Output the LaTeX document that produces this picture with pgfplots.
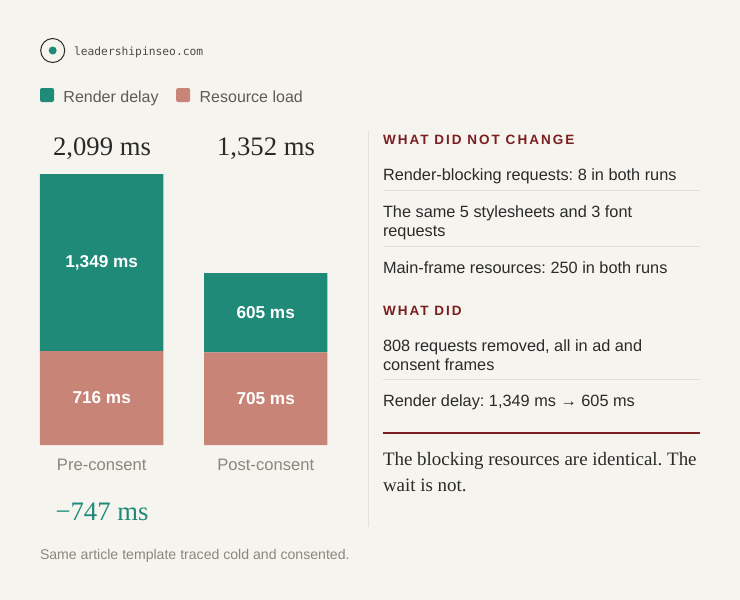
\documentclass[border=0pt]{standalone}
\usepackage{pgfplots}
\pgfplotsset{compat=1.18}
\usepackage{fontspec}
\setmainfont{Liberation Sans}
\newfontfamily\serif{Liberation Serif}
\newfontfamily\mono{DejaVu Sans Mono}
\newfontfamily\hdr[LetterSpace=15]{Liberation Sans}
\definecolor{bg}{HTML}{F6F4EF}
\definecolor{teal}{HTML}{1F8A78}
\definecolor{salmon}{HTML}{C98478}
\definecolor{maroon}{HTML}{7A1F1F}
\definecolor{ink}{HTML}{2A2A28}
\definecolor{mid}{HTML}{5F5B55}
\definecolor{soft}{HTML}{8C877B}
\definecolor{hair}{HTML}{E3E1D5}
\frenchspacing
\newcommand{\T}[3]{\node[anchor=base west,inner sep=0pt,outer sep=0pt] at (#1pt,-#2pt) {#3};}
\newcommand{\C}[3]{\node[anchor=base,inner sep=0pt,outer sep=0pt] at (#1pt,-#2pt) {#3};}
\newcommand{\body}{\fontsize{16.3}{18}\selectfont\color{ink}}
\newcommand{\bigf}{\serif\fontsize{26.7}{30}\selectfont}
\newcommand{\head}{\hdr\bfseries\fontsize{13.5}{16}\selectfont\color{maroon}}
\begin{document}
\begin{tikzpicture}
\fill[bg] (0pt,0pt) rectangle (740pt,-600pt);
% brand
\draw[ink,line width=1pt] (52.7pt,-50.5pt) circle (12pt);
\fill[teal] (52.7pt,-50.5pt) circle (4pt);
\T{74}{55}{\mono\fontsize{11.3}{13}\selectfont\color{mid!70!ink}leadershipinseo.com}
\begin{axis}[
  at={(40pt,-445pt)}, anchor=south west, scale only axis,
  width=287.4pt, height=271pt,
  xmin=-0.3762, xmax=1.3762, ymin=0, ymax=2065,
  ybar stacked, bar width=123.4pt, bar shift=0pt,
  xtick=data, xticklabels={Pre-consent,Post-consent},
  ytick=\empty,
  axis line style={draw=none}, tick style={draw=none},
  x tick label style={font=\fontsize{16.6}{18}\selectfont, text=soft, anchor=base, yshift=-25pt},
  /pgf/number format/assume math mode=true,
  visualization depends on={\thisrow{v} \as \rawy},
  nodes near coords={\pgfmathprintnumber[1000 sep={,}]{\rawy}~ms},
  every node near coord/.append style={font=\bfseries\fontsize{17.2}{20}\selectfont, text=white, anchor=center},
  clip=false,
  reverse legend,
  legend columns=2,
  legend style={draw=none, fill=none, at={(0pt,357pt)}, anchor=north west, inner sep=0pt, outer sep=0pt,
    font=\fontsize{16}{18}\selectfont\color{mid},
    /tikz/every odd column/.style={column sep=7.5pt},
    /tikz/every even column/.style={column sep=15.5pt}},
  legend image code/.code={\fill[#1,rounded corners=2pt] (0pt,-4.5pt) rectangle (14pt,9.5pt);},
]
\addplot[fill=salmon,draw=none] table[x=x,y=v] {
x v
0 716
1 705
};
\addlegendentry{Resource load}
\addplot[fill=teal,draw=none] table[x=x,y=v] {
x v
0 1349
1 605
};
\addlegendentry{Render delay}
\end{axis}
% totals
\C{102}{155}{\bigf\color{ink}2,099 ms}
\C{266}{155}{\bigf\color{ink}1,352 ms}
\C{102}{520.7}{\bigf\color{teal}−747 ms}
\T{40}{559}{\fontsize{14.1}{16}\selectfont\color{soft}Same article template traced cold and consented.}
% right panel
\draw[hair,line width=1pt] (368.5pt,-131pt) -- (368.5pt,-527pt);
\T{383}{144.7}{\head WHAT DID NOT CHANGE}
\T{383}{180.7}{\body Render-blocking requests: 8 in both runs}
\draw[hair,line width=1pt] (382.5pt,-190pt) -- (700pt,-190pt);
\T{383}{217.7}{\body The same 5 stylesheets and 3 font}
\T{383}{236.7}{\body requests}
\draw[hair,line width=1pt] (382.5pt,-246pt) -- (700pt,-246pt);
\T{383}{273.7}{\body Main-frame resources: 250 in both runs}
\T{383}{315}{\head WHAT DID}
\T{383}{351}{\body 808 requests removed, all in ad and}
\T{383}{370}{\body consent frames}
\draw[hair,line width=1pt] (382.5pt,-379.5pt) -- (700pt,-379.5pt);
\T{383}{406.7}{\body Render delay: 1,349 ms → 605 ms}
\draw[maroon,line width=2pt] (382.5pt,-432.5pt) -- (700pt,-432.5pt);
\T{383}{465.7}{\serif\fontsize{18.95}{24}\selectfont\color{ink}The blocking resources are identical. The}
\T{383}{491}{\serif\fontsize{18.95}{24}\selectfont\color{ink}wait is not.}
\end{tikzpicture}
\end{document}
